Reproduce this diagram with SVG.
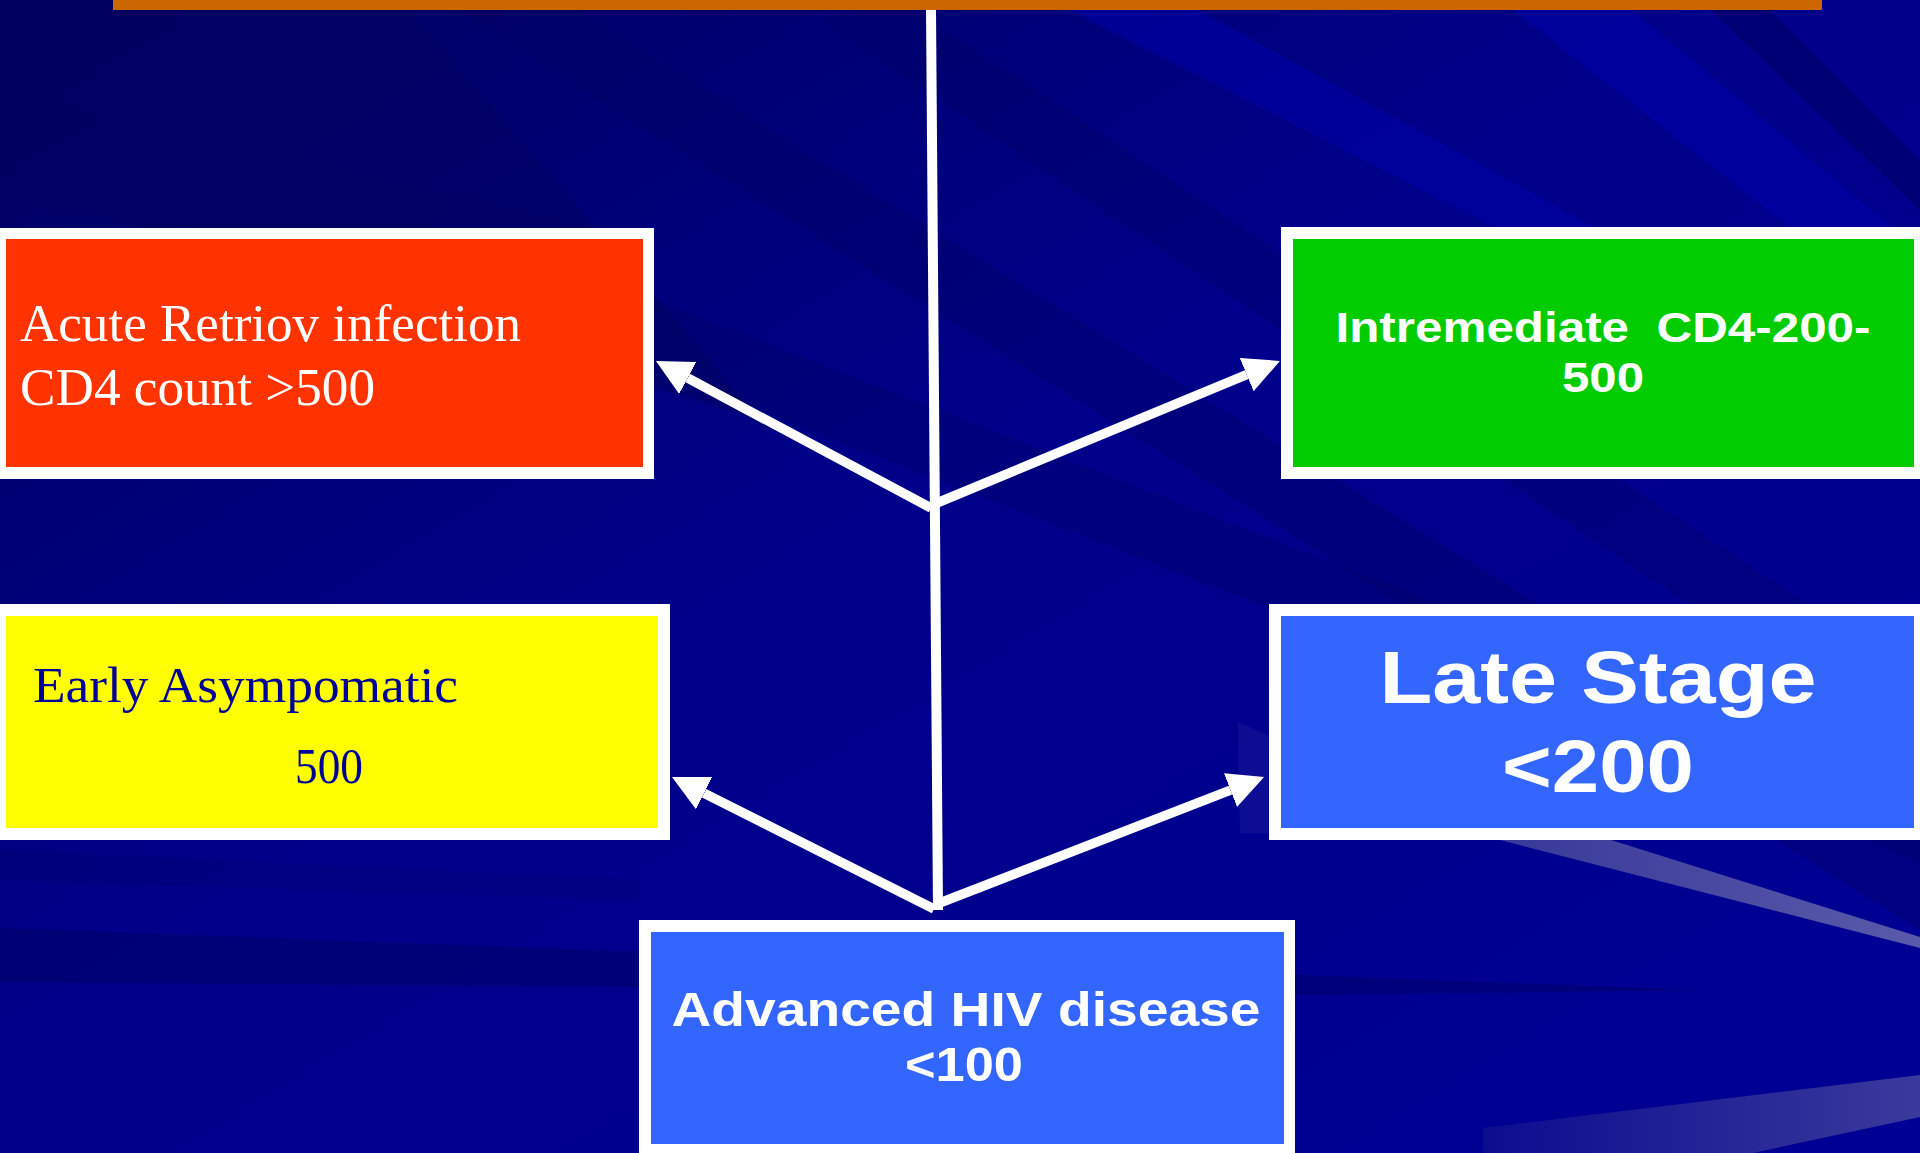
<svg xmlns="http://www.w3.org/2000/svg" width="1920" height="1153" viewBox="0 0 1920 1153">
<style>
.border{fill:#FFFFFF}
.serif{font-family:"Liberation Serif","Times New Roman",serif}
.sans{font-family:"Liberation Sans",Arial,sans-serif;font-weight:bold;fill:#FFFFFF}
.conn{stroke:#FFFFFF;fill:none}
.dark{fill:#000060}
</style>
<defs>
<linearGradient id="bg" x1="0" y1="0" x2="1" y2="1">
<stop offset="0" stop-color="#00005E"/>
<stop offset="0.45" stop-color="#00008A"/>
<stop offset="1" stop-color="#000094"/>
</linearGradient>
<linearGradient id="light1" x1="0" y1="0" x2="1" y2="0">
<stop offset="0" stop-color="#38389A"/>
<stop offset="1" stop-color="#5A5AAA"/>
</linearGradient>
<linearGradient id="light2" x1="0" y1="0" x2="1" y2="0">
<stop offset="0" stop-color="#0C0C90"/>
<stop offset="1" stop-color="#3A3A9C"/>
</linearGradient>
<marker id="head" markerUnits="userSpaceOnUse" markerWidth="37" markerHeight="37" refX="0" refY="18" orient="auto" viewBox="0 0 37 37">
<path d="M0,0 L36,18 L0,36 Z" fill="#FFFFFF"/>
</marker>
</defs>

<g id="background">
<rect x="0" y="0" width="1920" height="1153" fill="url(#bg)"/>
<polygon class="dark" opacity="0.55" points="0,0 400,0 760,420 0,180"/>
<polygon class="dark" opacity="0.35" points="440,0 560,0 1920,840 1920,930"/>
<polygon class="dark" opacity="0.3" points="0,90 650,240 650,330 0,200"/>
<polygon class="dark" opacity="0.3" points="820,20 900,0 1920,680 1920,760"/>
<polygon fill="#0000A6" opacity="0.6" points="1050,0 1180,0 1600,230 1500,230"/>
<polygon fill="#0000A8" opacity="0.6" points="1500,0 1620,0 1920,250 1920,330"/>
<polygon class="dark" opacity="0.5" points="1700,0 1760,0 1920,160 1920,210"/>
<polygon class="dark" opacity="0.3" points="654,300 654,370 1920,860 1920,790"/>
<polygon class="dark" opacity="0.45" points="0,928 650,952 1296,975 1700,990 1296,995 650,987 0,982"/>
<polygon class="dark" opacity="0.2" points="0,850 640,880 640,900 0,880"/>
<polygon fill="url(#light1)" points="1500,840 1611,840 1920,937 1920,948"/>
<polygon fill="url(#light2)" points="1483,1128 1920,1075 1920,1117 1753,1153 1483,1153"/>
<polygon fill="#2A2AA0" opacity="0.3" points="1238,722 1268,735 1268,833 1240,833"/>
</g>

<g id="title-bar">
<rect x="113" y="0" width="1709" height="10" fill="#CC6600"/>
</g>

<g id="connectors">
<line class="conn" x1="931" y1="10" x2="938" y2="910" stroke-width="10"/>
<line class="conn" x1="931" y1="508" x2="687.7" y2="378" stroke-width="9.5" marker-end="url(#head)"/>
<line class="conn" x1="932" y1="505" x2="1246.7" y2="374.7" stroke-width="9.5" marker-end="url(#head)"/>
<line class="conn" x1="934" y1="909" x2="704.1" y2="793.2" stroke-width="9.5" marker-end="url(#head)"/>
<line class="conn" x1="937" y1="904" x2="1230.5" y2="790.1" stroke-width="9.5" marker-end="url(#head)"/>
</g>

<g id="node-acute">
<rect class="border" x="0" y="228" width="654" height="251"/>
<rect x="6" y="239" width="637" height="228" fill="#FF3300"/>
<text class="serif" x="20" y="341" font-size="53" fill="#FFFFFF" textLength="501" lengthAdjust="spacingAndGlyphs">Acute Retriov infection</text>
<text class="serif" x="20" y="405" font-size="53" fill="#FFFFFF" textLength="355" lengthAdjust="spacingAndGlyphs">CD4 count &gt;500</text>
</g>

<g id="node-intermediate">
<rect class="border" x="1281" y="227" width="639" height="252"/>
<rect x="1293" y="239" width="621" height="228" fill="#00CC00"/>
<text class="sans" x="1603" y="342" font-size="42" text-anchor="middle" style="white-space:pre" textLength="535" lengthAdjust="spacingAndGlyphs">Intremediate  CD4-200-</text>
<text class="sans" x="1603" y="392" font-size="42" text-anchor="middle" textLength="82" lengthAdjust="spacingAndGlyphs">500</text>
</g>

<g id="node-early">
<rect class="border" x="0" y="604" width="670" height="236"/>
<rect x="6" y="616" width="652" height="212" fill="#FFFF00"/>
<text class="serif" x="33" y="702" font-size="51" fill="#000099" textLength="425" lengthAdjust="spacingAndGlyphs">Early Asympomatic</text>
<text class="serif" x="295" y="783" font-size="51" fill="#000099" textLength="68" lengthAdjust="spacingAndGlyphs">500</text>
</g>

<g id="node-late">
<rect class="border" x="1269" y="604" width="651" height="236"/>
<rect x="1281" y="616" width="633" height="212" fill="#3366FF"/>
<text class="sans" x="1598" y="703" font-size="75" text-anchor="middle" textLength="437" lengthAdjust="spacingAndGlyphs">Late Stage</text>
<text class="sans" x="1598" y="792" font-size="75" text-anchor="middle" textLength="192" lengthAdjust="spacingAndGlyphs">&lt;200</text>
</g>

<g id="node-advanced">
<rect class="border" x="639" y="920" width="656" height="233"/>
<rect x="651" y="932" width="633" height="212" fill="#3366FF"/>
<text class="sans" x="966" y="1026" font-size="47.5" text-anchor="middle" textLength="589" lengthAdjust="spacingAndGlyphs">Advanced HIV disease</text>
<text class="sans" x="964" y="1081" font-size="47.5" text-anchor="middle" textLength="118" lengthAdjust="spacingAndGlyphs">&lt;100</text>
</g>
</svg>
